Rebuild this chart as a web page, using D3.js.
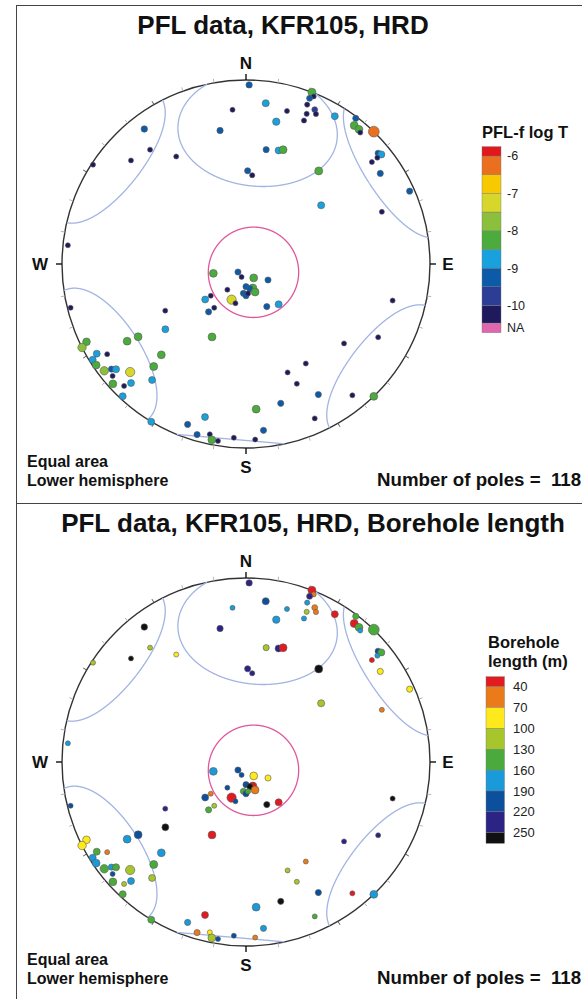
<!DOCTYPE html>
<html>
<head>
<meta charset="utf-8">
<script src="https://cdn.jsdelivr.net/npm/d3@7"></script>
<style>
  body { margin: 0; background: #fff; }
  text { font-family: "Liberation Sans", Arial, Helvetica, sans-serif; }
</style>
</head>
<body>
<svg id="chart" width="582" height="999"></svg>
<script>
// ---- Pole data (lower hemisphere): trend °, plunge °, PFL-f log T, borehole length (m)
const poleTrend = [1,355,349,1,4,323,320,312,327,303,276,7,15,12,21,22,21,21,24,25,22,22,31,37,38,40,41,44,50,51,51,51,56,66,69,10,16,18,38,52,
  256,240,231,244,243,237,236,239,237,238,236,223,222,233,232,231,227,230,228,225,224,219,223,211,200,195,196,192,191,189,184,177,205,176,
  254,225,199,151,126,180,164,171,162,185,180,176,202,195,154,141,216,229,228,216,218,
  104,119,129,149,159,157,151,166,141,136,156,174];
const polePlunge = [3,17,27,48,50,9,20,17,31,1,3,13,15,22,0,2,4,8,9,11,13,17,7,1,5,5,6,0,7,6,9,13,13,3,22,37,36,35,36,47,
  2,48,43,4,0,24,30,6,11,2,2,33,26,4,8,10,15,6,3,7,11,20,2,0,8,15,4,6,3,3,6,5,54,22,
  75,85,84,83,78,80,79,79,77,77,76,77,73,72,69,67,76,66,69,66,63,
  19,19,32,37,37,30,20,23,9,0,9,10];
const poleLogT = [-9.3,-10.2,-9.3,-9.4,-10.1,-9.2,-10.2,-10.2,-10.2,-10.2,-10.2,-8.8,-10.2,-8.6,-8.2,-10.2,-9.5,-10.1,-9.6,-10.1,-10.1,-10.1,-8.9,-9.4,-8.2,-8.3,-10.2,-6.3,-9.5,-8.8,-10.2,-10.2,-9.4,-9.4,-10.2,-9.4,-8.9,-8.3,-8.2,-8.8,
  -10.2,-10.2,-8.9,-8.4,-7.9,-8.3,-8.3,-8.9,-10.2,-8.9,-8.3,-8.3,-8.2,-7.9,-9.4,-8.8,-7.3,-10.2,-8.3,-10.2,-8.9,-8.9,-8.9,-8.9,-9.4,-8.9,-9.4,-10.2,-8.3,-10.2,-10.2,-10.2,-8.3,-8.3,
  -8.3,-9.4,-10.2,-8.3,-9.4,-9.4,-8.3,-9.4,-8.3,-9.4,-9.4,-10.1,-7.3,-10.2,-9.4,-8.8,-10.2,-8.9,-10.2,-10.2,-9.4,
  -10.2,-10.2,-10.2,-10.2,-10.2,-10.2,-9.4,-9.4,-10.2,-8.3,-10.2,-9.4];
const poleLength = [230,175,235,230,240,255,115,260,85,110,170,200,170,175,35,55,230,175,50,55,110,170,35,145,30,140,175,145,200,140,175,35,85,85,55,115,230,35,260,115,
  200,235,260,80,85,175,200,140,55,170,170,175,145,140,170,140,115,200,140,115,170,115,140,140,170,35,55,85,115,200,200,55,35,170,
  170,200,200,85,80,200,35,260,55,145,200,130,30,200,260,35,200,200,55,115,145,
  260,235,235,55,115,115,200,260,35,175,145,170];

// ---- Reference cones drawn on both nets: axis trend °, plunge °, half-angle °
const coneTrend = [5, 128, 237, 138];
const conePlunge = [25, 0, 4, 85];
const coneAngle = [30, 25, 25, 20];
const coneColor = ["#a3b4e3", "#a3b4e3", "#a3b4e3", "#e0579c"];

// ---- Colour legends
const logTBreaks = [-10, -9.5, -9, -8.5, -8, -7.5, -7, -6.5, -6];
const logTColors = ["#1f1a5e","#2b3d94","#0d5ba8","#18a1dc","#4bab3c","#8cbf3b","#d6d62b","#f7c900","#ea7020","#e2171d"];
const logTTicks = [-6, -7, -8, -9, -10];
const naColor = "#e066ad";

const lengthBreaks = [40, 70, 100, 130, 160, 190, 220, 250];
const lengthColors = ["#e11b1f","#ea7a1a","#fde91c","#a6c62b","#4aab3c","#1a9ad8","#0c4f9d","#2c2485","#111111"];
const lengthTicks = [40, 70, 100, 130, 160, 190, 220, 250];

const poleCount = 118;

// ---- Layout
const R = 184;
const rad = Math.PI / 180;
const svg = d3.select("#chart");

const logTColor = d3.scaleThreshold().domain(logTBreaks).range(logTColors);
const lengthColor = d3.scaleThreshold().domain(lengthBreaks).range(lengthColors);
const sizeScale = d3.scaleLinear().domain([-10.2, -6.3]).range([2.5, 5.4]).clamp(true);
const rScale = d3.scaleLinear().domain([0, 1]).range([0, R]);

// Frame
svg.append("line").attr("x1", 16.5).attr("x2", 16.5).attr("y1", 5).attr("y2", 999).attr("stroke", "#444").attr("stroke-width", 1);
svg.append("line").attr("x1", 16).attr("x2", 582).attr("y1", 5.5).attr("y2", 5.5).attr("stroke", "#444").attr("stroke-width", 1);
svg.append("line").attr("x1", 16).attr("x2", 582).attr("y1", 503.5).attr("y2", 503.5).attr("stroke", "#444").attr("stroke-width", 1);

function project(p, trend, plunge) {
  const r = rScale(Math.SQRT2 * Math.sin((90 - plunge) * rad / 2));
  return [p.cx + r * Math.sin(trend * rad), p.cy - r * Math.cos(trend * rad)];
}

// Small circle about an axis, folded into the lower hemisphere; split where it crosses the primitive
function smallCircle(trend, plunge, angle) {
  const t = trend * rad, pl = plunge * rad, a = angle * rad;
  const ax = [Math.cos(pl) * Math.sin(t), Math.cos(pl) * Math.cos(t), Math.sin(pl)];
  const u = [Math.sin(pl) * Math.sin(t), Math.sin(pl) * Math.cos(t), -Math.cos(pl)];
  const v = [Math.cos(t), -Math.sin(t), 0];
  const segs = [];
  let cur = [], prev = null;
  for (let k = 0; k <= 1440; k++) {
    const f = k * 0.25 * rad;
    const c = [0, 1, 2].map(i => Math.cos(a) * ax[i] + Math.sin(a) * (Math.cos(f) * u[i] + Math.sin(f) * v[i]));
    const flip = c[2] < 0;
    if (flip) { c[0] = -c[0]; c[1] = -c[1]; c[2] = -c[2]; }
    if (prev !== null && flip !== prev) { segs.push(cur); cur = []; }
    prev = flip;
    cur.push([Math.atan2(c[0], c[1]) / rad, Math.asin(Math.min(1, c[2])) / rad]);
  }
  segs.push(cur);
  return segs.filter(s => s.length > 1);
}

const panels = [
  { cx: 246, cy: 264, title: "PFL data, KFR105, HRD", titleX: 283, titleY: 34, mode: "logT" },
  { cx: 246, cy: 762, title: "PFL data, KFR105, HRD, Borehole length", titleX: 313, titleY: 532, mode: "length" }
];

panels.forEach(p => {
  const g = svg.append("g");
  const oy = p.cy - 264;

  g.append("text").attr("x", p.titleX).attr("y", p.titleY).attr("text-anchor", "middle")
    .attr("font-size", 26).attr("font-weight", "bold").attr("fill", "#111").text(p.title);

  // primitive circle
  g.append("circle").attr("cx", p.cx).attr("cy", p.cy).attr("r", R)
    .attr("fill", "none").attr("stroke", "#333").attr("stroke-width", 1.4);

  // ticks every 10°
  d3.range(0, 360, 10).forEach(az => {
    const cardinal = az % 90 === 0, major = az % 30 === 0;
    const len = cardinal ? 6 : 4;
    const s = Math.sin(az * rad), c = Math.cos(az * rad);
    g.append("line")
      .attr("x1", p.cx + R * s).attr("y1", p.cy - R * c)
      .attr("x2", p.cx + (R + len) * s).attr("y2", p.cy - (R + len) * c)
      .attr("stroke", cardinal ? "#111" : major ? "#555" : "#b5b5b5")
      .attr("stroke-width", cardinal ? 1.4 : 1);
  });

  // cardinal labels
  const lab = [["N", p.cx, 69 + oy, "middle"], ["S", p.cx, 473 + oy, "middle"],
               ["W", 40, 270 + oy, "middle"], ["E", 448, 270 + oy, "middle"]];
  lab.forEach(d => g.append("text").attr("x", d[1]).attr("y", d[2]).attr("text-anchor", d[3])
    .attr("font-size", 17).attr("font-weight", "bold").attr("fill", "#111").text(d[0]));

  // cones
  const line = d3.line().x(d => project(p, d[0], d[1])[0]).y(d => project(p, d[0], d[1])[1]);
  coneTrend.forEach((ct, i) => {
    smallCircle(ct, conePlunge[i], coneAngle[i]).forEach(seg => {
      g.append("path").attr("d", line(seg)).attr("fill", "none")
        .attr("stroke", coneColor[i]).attr("stroke-width", 1.3);
    });
  });

  // poles
  const idx = d3.range(poleTrend.length);
  g.selectAll("circle.pole").data(idx).join("circle").attr("class", "pole")
    .attr("cx", i => project(p, poleTrend[i], polePlunge[i])[0])
    .attr("cy", i => project(p, poleTrend[i], polePlunge[i])[1])
    .attr("r", i => sizeScale(poleLogT[i]))
    .attr("fill", i => p.mode === "logT" ? logTColor(poleLogT[i]) : lengthColor(poleLength[i]))
    .attr("stroke", "#5a5a5a").attr("stroke-width", 0.6);

  // footer texts
  g.append("text").attr("x", 27).attr("y", 467 + oy).attr("font-size", 16).attr("font-weight", "bold").attr("fill", "#111").text("Equal area");
  g.append("text").attr("x", 27).attr("y", 485.5 + oy).attr("font-size", 16).attr("font-weight", "bold").attr("fill", "#111").text("Lower hemisphere");
  g.append("text").attr("x", 377).attr("y", 486 + oy).attr("font-size", 18.7).attr("font-weight", "bold")
    .attr("fill", "#111").style("white-space", "pre").text("Number of poles =  " + poleCount);
});

// ---- Legend: PFL-f log T
{
  const g = svg.append("g");
  const y = d3.scaleLinear().domain([-6, -10]).range([156, 305.5]);
  const x0 = 482, w = 19;
  g.append("text").attr("x", 482).attr("y", 138).attr("font-size", 16.5).attr("font-weight", "bold").attr("fill", "#111").text("PFL-f log T");
  const edges = [-10.47].concat(logTBreaks, [-5.75]);
  logTColors.forEach((col, i) => {
    g.append("rect").attr("x", x0).attr("width", w)
      .attr("y", y(edges[i + 1])).attr("height", y(edges[i]) - y(edges[i + 1]))
      .attr("fill", col).attr("stroke", "#777").attr("stroke-width", 0.4);
  });
  g.append("rect").attr("x", x0).attr("width", w).attr("y", 323.3).attr("height", 9.4)
    .attr("fill", naColor).attr("stroke", "#777").attr("stroke-width", 0.4);
  logTTicks.forEach(t => g.append("text").attr("x", 507).attr("y", y(t)).attr("dy", "0.35em")
    .attr("font-size", 12.5).attr("fill", "#222").text(t));
  g.append("text").attr("x", 507).attr("y", 328).attr("dy", "0.35em").attr("font-size", 12.5).attr("fill", "#222").text("NA");
}

// ---- Legend: Borehole length
{
  const g = svg.append("g");
  const y = d3.scaleLinear().domain([40, 250]).range([686.7, 832.7]);
  const x0 = 486, w = 18.5;
  g.append("text").attr("x", 488).attr("y", 648).attr("font-size", 16.5).attr("font-weight", "bold").attr("fill", "#111").text("Borehole");
  g.append("text").attr("x", 488).attr("y", 666.5).attr("font-size", 16.5).attr("font-weight", "bold").attr("fill", "#111").text("length (m)");
  const edges = [25.6].concat(lengthBreaks, [265.3]);
  lengthColors.forEach((col, i) => {
    g.append("rect").attr("x", x0).attr("width", w)
      .attr("y", y(edges[i])).attr("height", y(edges[i + 1]) - y(edges[i]))
      .attr("fill", col).attr("stroke", "#777").attr("stroke-width", 0.4);
  });
  lengthTicks.forEach(t => g.append("text").attr("x", 513).attr("y", y(t)).attr("dy", "0.35em")
    .attr("font-size", 13).attr("fill", "#222").text(t));
}
</script>
</body>
</html>
